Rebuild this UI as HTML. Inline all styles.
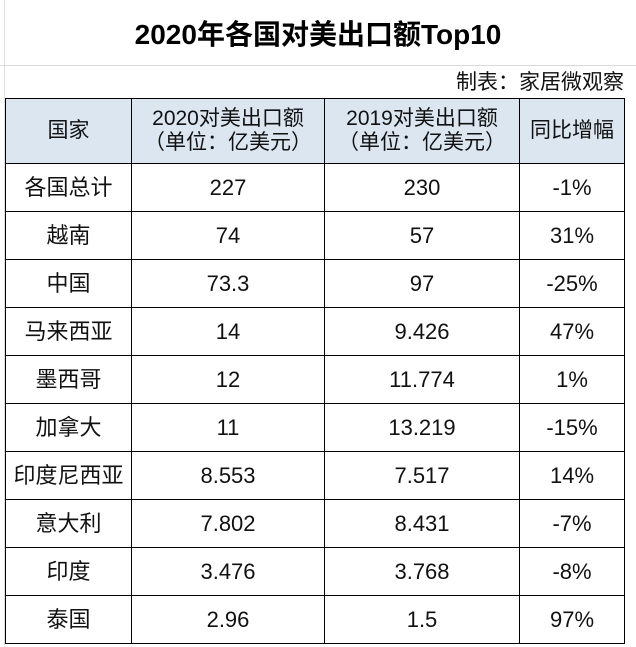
<!DOCTYPE html>
<html><head><meta charset="utf-8"><style>
body{margin:0;width:636px;height:647px;background:#fff;overflow:hidden;font-family:"Liberation Sans","Noto Sans CJK SC",sans-serif;position:relative}
.title{position:absolute;left:0;top:13px;width:636px;text-align:center;font-size:28px;font-weight:bold;color:#000}
.gl{position:absolute;left:0;top:65px;width:636px;height:1px;background:#d9d9d9}
.gv{position:absolute;left:4px;top:0;width:1px;height:647px;background:#e0e0e0}
.sub{position:absolute;right:12px;top:66px;font-size:21px;color:#111}
table{position:absolute;left:5px;top:98px;border-collapse:collapse;table-layout:fixed}
td{border:1.5px solid #000;text-align:center;font-size:22px;color:#111;height:47px;padding:0;line-height:1.15}
tr.h td{background:#dce6f1;height:64px;font-size:21px}
</style></head><body>
<div class="gv"></div>
<div class="title">2020年各国对美出口额Top10</div>
<div class="gl"></div>
<div class="sub">制表：家居微观察</div>
<table>
<colgroup><col style="width:126px"><col style="width:193px"><col style="width:195px"><col style="width:105px"></colgroup>
<tr class="h"><td>国家</td><td>2020对美出口额<br>（单位：亿美元）</td><td>2019对美出口额<br>（单位：亿美元）</td><td>同比增幅</td></tr>
<tr><td>各国总计</td><td>227</td><td>230</td><td>-1%</td></tr>
<tr><td>越南</td><td>74</td><td>57</td><td>31%</td></tr>
<tr><td>中国</td><td>73.3</td><td>97</td><td>-25%</td></tr>
<tr><td>马来西亚</td><td>14</td><td>9.426</td><td>47%</td></tr>
<tr><td>墨西哥</td><td>12</td><td>11.774</td><td>1%</td></tr>
<tr><td>加拿大</td><td>11</td><td>13.219</td><td>-15%</td></tr>
<tr><td>印度尼西亚</td><td>8.553</td><td>7.517</td><td>14%</td></tr>
<tr><td>意大利</td><td>7.802</td><td>8.431</td><td>-7%</td></tr>
<tr><td>印度</td><td>3.476</td><td>3.768</td><td>-8%</td></tr>
<tr><td>泰国</td><td>2.96</td><td>1.5</td><td>97%</td></tr>
</table>
</body></html>
